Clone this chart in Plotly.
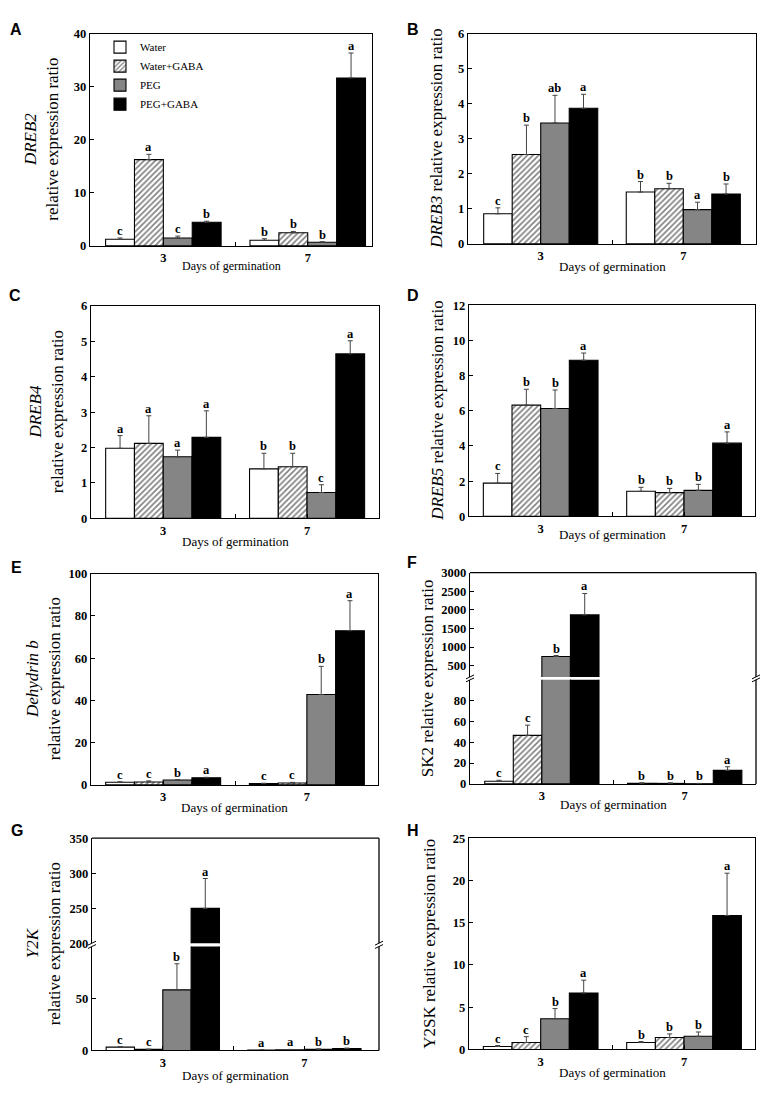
import plotly.graph_objects as go

W, H = 767, 1093

# ---------------- data ----------------
DAYS = ["3", "7"]
DAY_POS = [0, 1]
TREATMENTS = ["Water", "Water+GABA", "PEG", "PEG+GABA"]

# one row per treatment: [day 3, day 7]
DREB2_MEAN = [[1.24, 1.05], [16.26, 2.47], [1.48, 0.68], [4.45, 31.65]]
DREB2_ERR = [[0.25, 0.30], [1.00, 0.25], [0.37, 0.12], [0.20, 4.70]]
DREB2_LET = [["c", "b"], ["a", "b"], ["c", "b"], ["b", "a"]]

DREB3_MEAN = [[0.86, 1.48], [2.55, 1.575], [3.45, 0.98], [3.87, 1.425]]
DREB3_ERR = [[0.17, 0.30], [0.84, 0.155], [0.79, 0.21], [0.40, 0.285]]
DREB3_LET = [["c", "b"], ["b", "b"], ["ab", "a"], ["a", "b"]]

DREB4_MEAN = [[1.98, 1.40], [2.12, 1.46], [1.74, 0.73], [2.29, 4.65]]
DREB4_ERR = [[0.36, 0.44], [0.78, 0.38], [0.19, 0.22], [0.75, 0.37]]
DREB4_LET = [["a", "b"], ["a", "b"], ["a", "c"], ["a", "a"]]

DREB5_MEAN = [[1.89, 1.425], [6.32, 1.35], [6.13, 1.48], [8.87, 4.16]]
DREB5_ERR = [[0.55, 0.225], [0.90, 0.24], [1.05, 0.34], [0.41, 0.64]]
DREB5_LET = [["c", "b"], ["b", "b"], ["b", "b"], ["a", "a"]]

DHN_MEAN = [[1.25, 0.6], [1.4, 0.9], [2.3, 42.8], [3.4, 73.0]]
DHN_ERR = [[0.25, 0.2], [0.5, 0.3], [0.2, 13.3], [0.2, 14.2]]
DHN_LET = [["c", "c"], ["c", "c"], ["b", "b"], ["a", "a"]]

SK2_MEAN = [[2.5, 0.6], [46.7, 0.5], [748, 0.2], [1865, 13.0]]
SK2_ERR = [[1.0, 0.5], [9.8, 0.6], [27, 0.3], [576, 3.5]]
SK2_LET = [["c", "b"], ["c", "b"], ["b", "b"], ["a", "a"]]

Y2K_MEAN = [[3.2, 0.4], [1.0, 0.7], [58.3, 1.0], [249.7, 1.9]]
Y2K_ERR = [[0.6, 0.2], [0.3, 0.3], [25.1, 0.6], [42.7, 0.4]]
Y2K_LET = [["c", "a"], ["c", "a"], ["b", "b"], ["a", "b"]]

Y2SK_MEAN = [[0.35, 0.82], [0.82, 1.41], [3.63, 1.56], [6.68, 15.86]]
Y2SK_ERR = [[0.12, 0.12], [0.70, 0.43], [1.21, 0.51], [1.52, 5.00]]
Y2SK_LET = [["c", "b"], ["c", "b"], ["b", "b"], ["a", "a"]]

X_TITLE = "Days of germination"

# ---------------- panel layout (page pixels) ----------------
PANELS = [
    dict(letter="A", mean=DREB2_MEAN, err=DREB2_ERR, let=DREB2_LET,
         title="<i>DREB2</i><br>relative expression ratio", tx=42, xt_dy=20, xt_size=12,
         box=(90, 372, 27, 242), xr=[-0.508, 1.445], yr=[0, 40], yt=[0, 10, 20, 30, 40],
         lpos=(8, 12)),
    dict(letter="B", mean=DREB3_MEAN, err=DREB3_ERR, let=DREB3_LET,
         title="<i>DREB3</i> relative expression ratio", tx=437, xt_dy=23, xt_size=13,
         box=(468, 756, 27, 240), xr=[-0.51, 1.51], yr=[0, 6], yt=[0, 1, 2, 3, 4, 5, 6],
         lpos=(405, 12)),
    dict(letter="C", mean=DREB4_MEAN, err=DREB4_ERR, let=DREB4_LET,
         title="<i>DREB4</i><br>relative expression ratio", tx=46, xt_dy=23, xt_size=13,
         box=(91, 379, 303, 518), xr=[-0.502, 1.5], yr=[0, 6], yt=[0, 1, 2, 3, 4, 5, 6],
         lpos=(7, 282)),
    dict(letter="D", mean=DREB5_MEAN, err=DREB5_ERR, let=DREB5_LET,
         title="<i>DREB5</i> relative expression ratio", tx=438, xt_dy=18, xt_size=13,
         box=(469, 755, 302, 516), xr=[-0.5, 1.495], yr=[0, 12], yt=[0, 2, 4, 6, 8, 10, 12],
         lpos=(405, 282)),
    dict(letter="E", mean=DHN_MEAN, err=DHN_ERR, let=DHN_LET,
         title="<i>Dehydrin b</i><br>relative expression ratio", tx=43, xt_dy=23, xt_size=13,
         box=(91, 378, 574, 788), xr=[-0.502, 1.495], yr=[0, 100], yt=[0, 20, 40, 60, 80, 100],
         lpos=(9, 557)),
    dict(letter="F", mean=SK2_MEAN, err=SK2_ERR, let=SK2_LET,
         title="SK2 relative expression ratio", tx=427, xt_dy=21, xt_size=13,
         box=(470, 756, 573, 787), xr=[-0.503, 1.499], yr=[0, 100], yt=[0, 20, 40, 60, 80],
         split=(678.6, 681.6), yr_up=[200, 3000], yt_up=[500, 1000, 1500, 2000, 2500, 3000],
         lpos=(405, 552)),
    dict(letter="G", mean=Y2K_MEAN, err=Y2K_ERR, let=Y2K_LET,
         title="<i>Y2K</i><br>relative expression ratio", tx=43, xt_dy=25, xt_size=13,
         box=(92, 379, 842, 1057), xr=[-0.5, 1.527], yr=[0, 100], yt=[0, 50],
         split=(948.3, 951.7), yr_up=[200, 350], yt_up=[200, 250, 300, 350],
         lpos=(9, 824)),
    dict(letter="H", mean=Y2SK_MEAN, err=Y2SK_ERR, let=Y2SK_LET,
         title="Y2SK relative expression ratio", tx=430, xt_dy=23, xt_size=13,
         box=(469, 755, 842, 1056), xr=[-0.5, 1.495], yr=[0, 25], yt=[0, 5, 10, 15, 20, 25],
         lpos=(405, 824)),
]

FILL = ["white", "white", "#858585", "black"]
PATTERN = ["", "/", "", ""]

SERIF = "Liberation Serif"
TICKFONT = dict(family=SERIF, size=12.5, color="black", weight="bold")
LW = 1.3
BARGAP = 0.2


def px_x(p):
    return p / W


def px_y(p):
    return 1 - p / H


def vline(x, y0, y1, width=LW):
    return dict(type="line", xref="paper", yref="paper",
                x0=px_x(x), x1=px_x(x), y0=px_y(y0), y1=px_y(y1),
                line=dict(color="black", width=width))


def hline(x0, x1, y, width=LW):
    return dict(type="line", xref="paper", yref="paper",
                x0=px_x(x0), x1=px_x(x1), y0=px_y(y), y1=px_y(y),
                line=dict(color="black", width=width))


n = len(TREATMENTS)
group_w = 1 - BARGAP
bw = group_w / n
OFFSETS = [-group_w / 2 + bw * (i + 0.5) for i in range(n)]

fig = go.Figure()
layout = {}
annotations = []
shapes = []
yi = 0

for pi, p in enumerate(PANELS):
    xnum = pi + 1
    xid = "x" if xnum == 1 else f"x{xnum}"
    xkey = "xaxis" if xnum == 1 else f"xaxis{xnum}"
    left, right, top, bottom = p["box"]
    broken = "split" in p

    yi += 1
    ylo = "y" if yi == 1 else f"y{yi}"
    ylokey = "yaxis" if yi == 1 else f"yaxis{yi}"
    if broken:
        yi += 1
        yup = f"y{yi}"
        yupkey = f"yaxis{yi}"

    layout[xkey] = dict(
        domain=[px_x(left), px_x(right)], anchor=ylo, range=p["xr"],
        tickvals=[DAY_POS[0], (DAY_POS[0] + DAY_POS[1]) / 2, DAY_POS[1]],
        ticktext=[DAYS[0], "", DAYS[1]],
        ticks="inside", ticklen=4, tickcolor="black", tickwidth=1,
        showline=True, linecolor="black", linewidth=LW, mirror=not broken,
        showgrid=False, zeroline=False, tickfont=TICKFONT, fixedrange=True,
    )

    axdefs = []
    if broken:
        s0, s1 = p["split"]
        axdefs.append((ylo, ylokey, [px_y(bottom), px_y(s1)], p["yr"], p["yt"]))
        axdefs.append((yup, yupkey, [px_y(s0), px_y(top)], p["yr_up"], p["yt_up"]))
    else:
        axdefs.append((ylo, ylokey, [px_y(bottom), px_y(top)], p["yr"], p["yt"]))

    for (yid, ykey, dom, rng, tv) in axdefs:
        layout[ykey] = dict(
            domain=dom, anchor=xid, range=rng, tickvals=tv,
            ticks="inside", ticklen=4, tickcolor="black", tickwidth=1,
            showline=True, linecolor="black", linewidth=LW, mirror=not broken,
            showgrid=False, zeroline=False, tickfont=TICKFONT, fixedrange=True,
        )
        for i, name in enumerate(TREATMENTS):
            marker = dict(color=FILL[i], line=dict(color="black", width=1.1))
            if PATTERN[i]:
                marker["pattern"] = dict(shape=PATTERN[i], fgcolor="black", bgcolor="white",
                                         size=4, solidity=0.4)
            fig.add_trace(go.Bar(
                x=DAY_POS, y=p["mean"][i], name=name, xaxis=xid, yaxis=yid,
                marker=marker, legendgroup=name,
                showlegend=(pi == 0 and yid == ylo),
                error_y=dict(type="data", symmetric=False, array=p["err"][i],
                             arrayminus=[0] * len(DAY_POS), color="#444",
                             thickness=1, width=2.5),
            ))

    # significance letters
    for i in range(n):
        for d in range(len(DAY_POS)):
            yv = p["mean"][i][d] + p["err"][i][d]
            yref = ylo
            if broken and yv > p["yr"][1]:
                yref = yup
            annotations.append(dict(
                x=DAY_POS[d] + OFFSETS[i], y=yv, xref=xid, yref=yref,
                text=p["let"][i][d], showarrow=False, yanchor="bottom", xanchor="center",
                yshift=-2, font=dict(family=SERIF, size=12.5, color="black", weight="bold"),
            ))

    # y title
    annotations.append(dict(
        x=px_x(p["tx"]), y=px_y((top + bottom) / 2), xref="paper", yref="paper",
        text=p["title"], showarrow=False, textangle=-90, xanchor="center", yanchor="middle",
        font=dict(family=SERIF, size=17, color="black"),
    ))
    # x title
    annotations.append(dict(
        x=px_x((left + right) / 2), y=px_y(bottom + p["xt_dy"]), xref="paper", yref="paper",
        text=X_TITLE, showarrow=False, xanchor="center", yanchor="middle",
        font=dict(family=SERIF, size=p["xt_size"], color="black"),
    ))
    # panel letter
    annotations.append(dict(
        x=px_x(p["lpos"][0]), y=px_y(p["lpos"][1]), xref="paper", yref="paper",
        text=f"<b>{p['letter']}</b>", showarrow=False, xanchor="left", yanchor="top",
        font=dict(family="Liberation Sans", size=16, color="black"),
    ))

    if broken:
        s0, s1 = p["split"]
        shapes.append(hline(left, right, top))
        shapes.append(vline(right, top, s0))
        shapes.append(vline(right, s1, bottom))
        for side in (left, right):
            for sy in (s0, s1):
                shapes.append(dict(type="line", xref="paper", yref="paper",
                                   x0=px_x(side - 4), x1=px_x(side + 4),
                                   y0=px_y(sy + 2), y1=px_y(sy - 2),
                                   line=dict(color="black", width=1)))

layout.update(dict(
    width=W, height=H, margin=dict(l=0, r=0, t=0, b=0),
    paper_bgcolor="white", plot_bgcolor="white",
    barmode="group", bargap=BARGAP, bargroupgap=0,
    showlegend=True,
    legend=dict(x=px_x(100), y=px_y(26), xanchor="left", yanchor="top",
                bgcolor="rgba(0,0,0,0)", tracegroupgap=0,
                font=dict(family=SERIF, size=11, color="black")),
    annotations=annotations, shapes=shapes,
))
fig.update_layout(**layout)
fig.write_html(
    "out.html",
    config={"displayModeBar": False},
    post_script="document.body.style.margin='0';document.body.style.overflow='hidden';",
)
